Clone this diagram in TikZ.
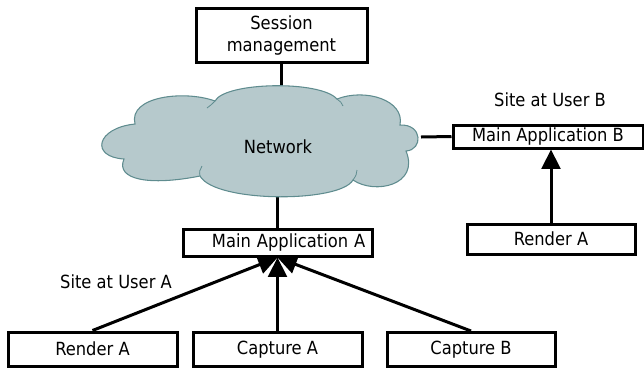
\documentclass[tikz,border=0pt]{standalone}
\usepackage{fontspec}
\setmainfont{DejaVu Sans Condensed}
\usetikzlibrary{arrows.meta}
\definecolor{cloudfill}{RGB}{182,201,204}
\definecolor{cloudedge}{RGB}{95,140,143}

\begin{document}
\begin{tikzpicture}[x=0.75pt,y=-0.75pt,
  font=\fontsize{13.6pt}{16.5pt}\selectfont,
  box/.style={draw=black,line width=2.25pt,fill=white,inner sep=0pt,align=center},
  wire/.style={line width=2.25pt},
  feed/.style={line width=2.25pt,-{Triangle[length=14.5pt,width=14pt]}},
  caption/.style={inner sep=0pt}]
\useasboundingbox (0,0) rectangle (644,369);

% boxes
\node[box,minimum width=128.25pt,minimum height=40.5pt] (sess) at (281.5,35) {Session\\management};
\node[box,minimum height=20.25pt,inner xsep=5pt,text width=131.75pt,align=right] (mainA) at (277.5,242.5) {Main Application A};
\node[box,minimum width=142.5pt,minimum height=17.25pt] (mainB) at (548,136.5) {Main Application B};
\node[box,minimum width=126pt,minimum height=22.5pt] (renderB) at (551,239) {Render A};
\node[box,minimum width=126.75pt,minimum height=25.5pt] (renderA) at (92.5,349) {Render A};
\node[box,minimum width=126.75pt,minimum height=25.5pt] (captA) at (277.5,349.5) {Capture A};
\node[box,minimum width=126pt,minimum height=25.5pt] (captB) at (471,349.5) {Capture B};

% site labels
\node[caption] (siteA) at (116,282) {Site at User A};
\node[caption] (siteB) at (550,100) {Site at User B};

% points where the wires meet the cloud
\coordinate (cloudtop) at (281.5,92);
\coordinate (cloudbot) at (277.5,192);
\coordinate (cloudright) at (421,137);

% wires to the network
\draw[wire] (sess.south) -- (cloudtop);
\draw[wire] (cloudbot) -- (mainA.north);
\draw[wire] (cloudright) -- (mainB.west);

% data flows into the main applications
\draw[feed] (renderA.north) -- (mainA.south);
\draw[feed] (captA.north) -- (mainA.south);
\draw[feed] (captB.north) -- (mainA.south);
\draw[feed] (renderB.north) -- (renderB.north |- mainB.south);

% network cloud
\path[draw=cloudedge,fill=cloudfill,line width=0.8pt]
  (124,159) .. controls (90,157) and (96,128) .. (135,124)
  .. controls (128,96) and (185,90) .. (215,101)
  .. controls (225,82) and (320,80) .. (337,99)
  .. controls (365,88) and (405,100) .. (400,125)
  .. controls (423,124) and (423,150) .. (406,151)
  .. controls (420,185) and (375,195) .. (353,180)
  .. controls (340,203) and (215,203) .. (200,176)
  .. controls (150,186) and (115,180) .. (124,159) -- cycle;
% small folds at the cusps
\draw[cloudedge,line width=0.6pt] (200,176) .. controls (199,172) and (200,169) .. (202,166);
\draw[cloudedge,line width=0.6pt] (353,180) .. controls (356,176) and (357,173) .. (357,170);
\draw[cloudedge,line width=0.6pt] (215,101) .. controls (212,104) and (210,106) .. (207,108);
\draw[cloudedge,line width=0.6pt] (337,99) .. controls (340,101) and (342,103) .. (343,106);
\node (net) at (278,147) {Network};
\end{tikzpicture}
\end{document}
